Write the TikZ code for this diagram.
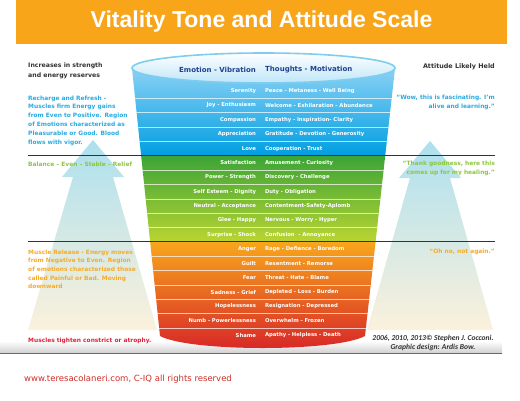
\documentclass[tikz,border=0pt]{standalone}
\usepackage{fontspec}
\setmainfont{DejaVu Sans}
\newfontfamily\titlefont{Liberation Sans}
\newfontfamily\credfont{Carlito}
\usetikzlibrary{positioning}
\definecolor{banner}{RGB}{249,165,26}
\definecolor{navy}{RGB}{35,64,142}
\definecolor{txtdark}{RGB}{51,51,51}
\definecolor{txtblue}{RGB}{41,171,226}
\definecolor{txtgreen}{RGB}{141,198,63}
\definecolor{txtorange}{RGB}{248,170,40}
\definecolor{txtred}{RGB}{218,37,60}
\definecolor{webred}{RGB}{208,45,38}
\definecolor{bluetop}{RGB}{150,214,246}
\definecolor{bluebot}{RGB}{0,158,226}
\definecolor{greentop}{RGB}{60,164,54}
\definecolor{greenbot}{RGB}{186,212,50}
\definecolor{orangetop}{RGB}{248,166,29}
\definecolor{orangebot}{RGB}{214,33,40}
\definecolor{rimblue}{RGB}{125,205,240}
\definecolor{arrtop}{RGB}{172,224,238}
\definecolor{arrmid}{RGB}{222,238,206}
\definecolor{arrbot}{RGB}{251,241,220}
\tikzstyle{title}=[rectangle,fill=banner,minimum width=491pt,minimum height=44pt,text=white,font=\titlefont\fontsize{23}{26}\selectfont\bfseries]
\tikzstyle{head}=[inner sep=0pt,text=navy,font=\fontsize{7}{8}\selectfont\bfseries]
\tikzstyle{emo}=[rectangle,text width=110pt,align=right,minimum height=14.35pt,inner sep=0pt,outer sep=0pt,text=white,font=\fontsize{5.3}{6}\selectfont\bfseries]
\tikzstyle{tht}=[emo,align=left,text width=120pt]
\tikzstyle{side}=[inner sep=0pt,align=left,anchor=west,font=\fontsize{5.9}{8.8}\selectfont\bfseries]
\tikzstyle{sider}=[side,align=right,anchor=east]
\tikzstyle{sep}=[white,opacity=0.7,line width=0.6pt]
\tikzstyle{bar}=[draw=black!80,line width=1.1pt]
\tikzstyle{bigarr}=[top color=arrtop,middle color=arrmid,bottom color=arrbot]

\begin{document}
\begin{tikzpicture}[x=1pt,y=-1pt]
\useasboundingbox[fill=white] (0,0) rectangle (520,400);
\node[title] (title) at (261.5,22) {Vitality Tone and Attitude Scale};

% floor shadow
\shade[top color=white,bottom color=black!18] (0,341) rectangle (502,353);
\draw[line width=1pt,color={rgb,255:red,125;green,100;blue,75}] (0,353.5) -- (502,353.5);

% big arrows
\shade[bigarr] (93,140) -- (124,177) -- (113,177) -- (157,330) -- (28,330) -- (73,177) -- (62,177) -- cycle;
\shade[bigarr] (430,141) -- (461,178) -- (450,178) -- (493,330) -- (367,330) -- (410,178) -- (399,178) -- cycle;

% the cup
\begin{scope}
\clip (132,68.5) -- (160,336) .. controls (190,352) and (335,352) .. (365,336) -- (395,68.5) -- cycle;
\shade[top color=bluetop,bottom color=bluebot] (100,60) rectangle (420,155.75);
\shade[top color=greentop,bottom color=greenbot] (100,155.75) rectangle (420,241.85);
\shade[top color=orangetop,bottom color=orangebot] (100,241.85) rectangle (420,355);
\draw[sep] (100,98.35) -- (420,98.35) (100,112.7) -- (420,112.7)
  (100,127.05) -- (420,127.05) (100,141.4) -- (420,141.4)
  (100,170.1) -- (420,170.1) (100,184.45) -- (420,184.45)
  (100,198.8) -- (420,198.8) (100,213.15) -- (420,213.15)
  (100,227.5) -- (420,227.5) (100,256.2) -- (420,256.2)
  (100,270.55) -- (420,270.55) (100,284.9) -- (420,284.9)
  (100,299.25) -- (420,299.25) (100,313.6) -- (420,313.6)
  (100,327.95) -- (420,327.95);
\end{scope}
\shade[top color=white,bottom color={rgb,255:red,190;green,230;blue,249},draw=rimblue,line width=1.6pt]
  (263.5,68) ellipse [x radius=131.5pt,y radius=15pt];

% dividing lines
\draw[bar] (28,155.75) -- (495,155.75);
\draw[bar] (28,241.85) -- (495,241.85);

% column heads
\node[head,anchor=east] (hE) at (256,70) {Emotion - Vibration};
\node[head,right=9pt of hE] (hT) {Thoughts - Motivation};

% emotions
\node[emo] (E1) at (201,91.175) {Serenity};
\node[emo,below=0pt of E1] (E2) {Joy - Enthusiasm};
\node[emo,below=0pt of E2] (E3) {Compassion};
\node[emo,below=0pt of E3] (E4) {Appreciation};
\node[emo,below=0pt of E4] (E5) {Love};
\node[emo,below=0pt of E5] (E6) {Satisfaction};
\node[emo,below=0pt of E6] (E7) {Power - Strength};
\node[emo,below=0pt of E7] (E8) {Self Esteem - Dignity};
\node[emo,below=0pt of E8] (E9) {Neutral - Acceptance};
\node[emo,below=0pt of E9] (E10) {Glee - Happy};
\node[emo,below=0pt of E10] (E11) {Surprise - Shock};
\node[emo,below=0pt of E11] (E12) {Anger};
\node[emo,below=0pt of E12] (E13) {Guilt};
\node[emo,below=0pt of E13] (E14) {Fear};
\node[emo,below=0pt of E14] (E15) {Sadness - Grief};
\node[emo,below=0pt of E15] (E16) {Hopelessness};
\node[emo,below=0pt of E16] (E17) {Numb - Powerlessness};
\node[emo,below=0pt of E17] (E18) {Shame};

% thoughts
\node[tht,right=9pt of E1] (T1) {Peace - Metaness - Well Being};
\node[tht,right=9pt of E2] (T2) {Welcome - Exhilaration - Abundance};
\node[tht,right=9pt of E3] (T3) {Empathy - Inspiration- Clarity};
\node[tht,right=9pt of E4] (T4) {Gratitude - Devotion - Generosity};
\node[tht,right=9pt of E5] (T5) {Cooperation - Trust};
\node[tht,right=9pt of E6] (T6) {Amusement - Curiosity};
\node[tht,right=9pt of E7] (T7) {Discovery - Challenge};
\node[tht,right=9pt of E8] (T8) {Duty - Obligation};
\node[tht,right=9pt of E9] (T9) {Contentment-Safety-Aplomb};
\node[tht,right=9pt of E10] (T10) {Nervous - Worry - Hyper};
\node[tht,right=9pt of E11] (T11) {Confusion\ \ - Annoyance};
\node[tht,right=9pt of E12] (T12) {Rage - Defiance - Boredom};
\node[tht,right=9pt of E13] (T13) {Resentment - Remorse};
\node[tht,right=9pt of E14] (T14) {Threat - Hate - Blame};
\node[tht,right=9pt of E15] (T15) {Depleted - Loss - Burden};
\node[tht,right=9pt of E16] (T16) {Resignation - Depressed};
\node[tht,right=9pt of E17] (T17) {Overwhelm - Frozen};
\node[tht,right=9pt of E18] (T18) {Apathy - Helpless - Death};

% left side
\node[side,text=txtdark,font=\fontsize{6.2}{9.7}\selectfont\bfseries] (incr) at (28,70.8) {Increases in strength\\and energy reserves};
\node[side,text=txtblue] (rech) at (28,120.5) {Recharge and Refresh -\\Muscles firm Energy gains\\from Even to Positive. Region\\of Emotions characterized as\\Pleasurable or Good. Blood\\flows with vigor.};
\node[side,text=txtgreen] (bal) at (28,164) {Balance – Even – Stable – Relief};
\node[side,text=txtorange,font=\fontsize{5.9}{8.6}\selectfont\bfseries] (rel) at (28,269.2) {Muscle Release - Energy moves\\from Negative to Even. Region\\of emotions characterized those\\called Painful or Bad. Moving\\downward};
\node[side,text=txtred] (tight) at (28,341) {Muscles tighten constrict or atrophy.};

% right side
\node[sider,text=txtdark,font=\fontsize{6.4}{8}\selectfont\bfseries] (att) at (495,67) {Attitude Likely Held};
\node[sider,text=txtblue,font=\fontsize{5.9}{9.3}\selectfont\bfseries] (wow) at (495,102.5) {“Wow, this is fascinating. I'm\\alive and learning.”};
\node[sider,text=txtgreen,font=\fontsize{5.9}{9.3}\selectfont\bfseries] (thank) at (495,168.5) {“Thank goodness, here this\\comes up for my healing.”};
\node[sider,text=txtorange] (ohno) at (495,252) {“Oh no, not again.”};
\node[inner sep=0pt,align=center,text=txtdark,font=\credfont\fontsize{7.6}{9}\selectfont\bfseries\itshape] (cred) at (433,342.5) {2006, 2010, 2013© Stephen J. Cocconi.\\Graphic design: Ardis Bow.};

% footer
\node[inner sep=0pt,anchor=west,text=webred,font=\fontsize{8.5}{10}\selectfont] (web) at (24,379) {www.teresacolaneri.com, C-IQ all rights reserved};
\end{tikzpicture}
\end{document}
